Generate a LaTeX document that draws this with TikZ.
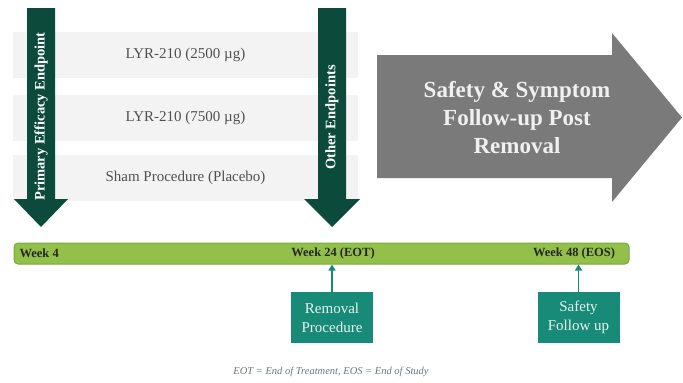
\documentclass[tikz,border=0pt]{standalone}
\usepackage{fontspec}
\setmainfont{Liberation Serif}
\usepackage{xcolor}
\usepackage{tikz}
\usetikzlibrary{positioning,arrows.meta}
\definecolor{endgreen}{HTML}{0C4A3B}
\definecolor{bandgray}{HTML}{F3F3F3}
\definecolor{armtext}{HTML}{505050}
\definecolor{barfill}{HTML}{93C04A}
\definecolor{barline}{HTML}{7BA83A}
\definecolor{boxteal}{HTML}{178A78}
\definecolor{postgray}{HTML}{7A7A7A}
\definecolor{notegray}{HTML}{6A7686}

\begin{document}
\begin{tikzpicture}[x=1pt, y=-1pt,
    band/.style={fill=bandgray, minimum width=345pt, minimum height=46pt, inner sep=0pt, text=armtext, font=\fontsize{15}{18}\selectfont},
    week/.style={font=\bfseries\fontsize{12.5}{15}\selectfont, text=black!85},
    visit/.style={fill=boxteal, minimum width=82pt, minimum height=51pt, align=center, text=white!90!boxteal, font=\fontsize{15}{19}\selectfont, inner sep=0pt}]
    \useasboundingbox (0,0) rectangle (683,383);

    % Treatment arms
    \node[band] (arm1) at (185.5,55) {LYR-210 (2500 µg)};
    \node[band] (arm2) at (185.5,117.5) {LYR-210 (7500 µg)};
    \node[band] (arm3) at (185.5,177.5) {Sham Procedure (Placebo)};

    % Endpoint arrows
    \fill[endgreen] (27,8) -- (55,8) -- (55,199) -- (68,199) -- (41,227) -- (14,199) -- (27,199) -- cycle;
    \node[rotate=90, text=white, font=\bfseries\fontsize{14.5}{17}\selectfont] (primary) at (41,116.5) {Primary Efficacy Endpoint};
    \fill[endgreen] (318,8) -- (346,8) -- (346,199) -- (360,199) -- (332,227) -- (304,199) -- (318,199) -- cycle;
    \node[rotate=90, text=white, font=\bfseries\fontsize{14.5}{17}\selectfont] (other) at (332,117.5) {Other Endpoints};

    % Follow-up arrow
    \fill[postgray] (377,55) -- (612,55) -- (612,33) -- (682,117.5) -- (612,202) -- (612,178) -- (377,178) -- cycle;
    \node[align=center, text=white!94!black, font=\bfseries\fontsize{23}{28}\selectfont] (post) at (517,118) {Safety \& Symptom\\Follow-up Post\\Removal};

    % Timeline
    \node[draw=barline, fill=barfill, line width=1pt, rounded corners=4pt, minimum width=615pt, minimum height=21pt] (bar) at (321.5,253.5) {};
    \node[week, anchor=west] (wk4) at (16,253.5) {Week 4};
    \node[week] (wk24) at (333,253.5) {Week 24 (EOT)};
    \node[week] (wk48) at (574,253.5) {Week 48 (EOS)};

    % Visits
    \node[visit] (removal) at (332,317.5) {Removal\\Procedure};
    \node[visit] (safety) at (578.5,317.5) {Safety\\Follow up};
    \foreach \v in {removal,safety}{
        \draw[-{Triangle[length=6pt,width=7pt]}, boxteal, line width=1.8pt] (\v.north) -- (\v.north |- bar.south);
    }

    % Note
    \node[font=\fontsize{10.5}{12}\selectfont\itshape, text=notegray] (note) at (331,372) {EOT = End of Treatment, EOS = End of Study};
\end{tikzpicture}
\end{document}
